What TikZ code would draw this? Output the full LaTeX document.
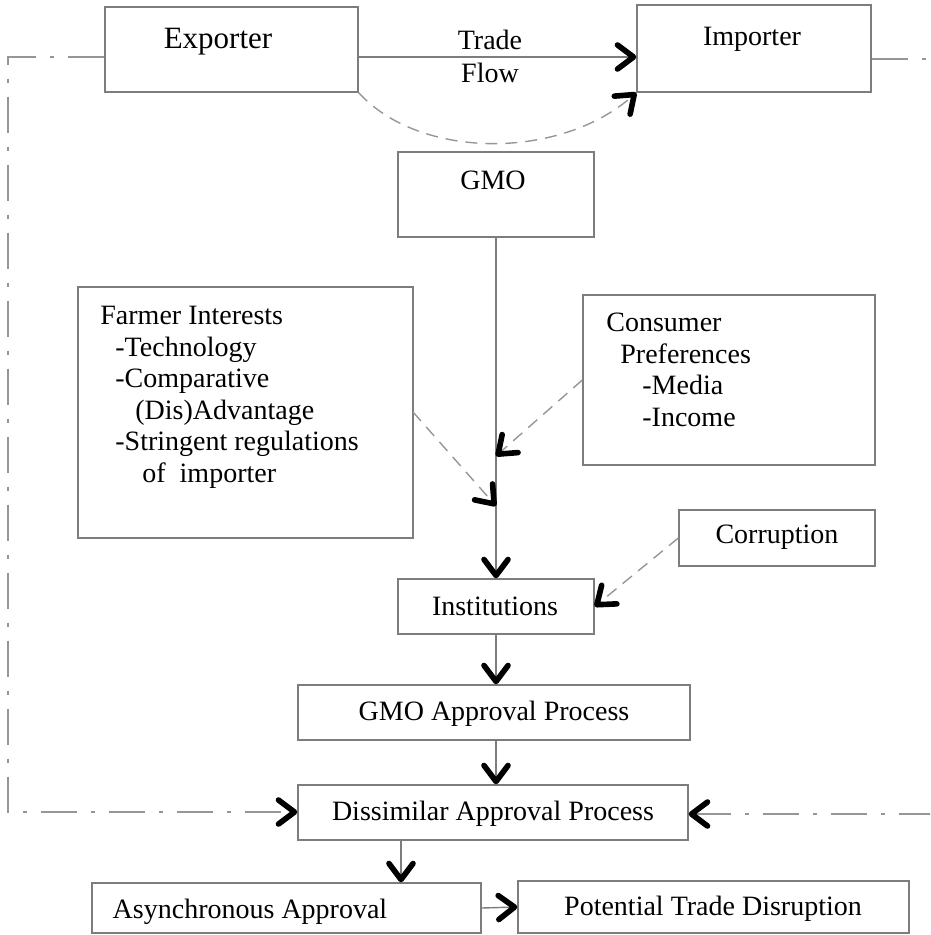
\documentclass[tikz,border=0pt]{standalone}
\usepackage{fontspec}
\setmainfont{Liberation Serif}
\usepackage{xcolor}
\usetikzlibrary{fit}
\usetikzlibrary{arrows.meta}
\definecolor{linegray}{RGB}{125,125,125}
\definecolor{dashgray}{RGB}{150,150,150}

\begin{document}
\begin{tikzpicture}[x=0.5pt,y=-0.5pt]

\tikzstyle{every node}=[font=\fontsize{14}{15.75}\selectfont]
\tikzstyle{box}=[draw=linegray,line width=0.7pt,inner sep=0pt]
\tikzstyle{barb}=[-{Straight Barb[length=8pt,width=12pt,line width=2.8pt,round,color=black]}]
\tikzstyle{flow}=[barb,draw=linegray,line width=0.7pt]
\tikzstyle{hint}=[barb,draw=dashgray,line width=0.7pt,dash pattern=on 6pt off 4pt]
\tikzstyle{feedback}=[barb,draw=dashgray,line width=0.7pt,dash pattern=on 18pt off 7pt on 2pt off 7pt]

\clip (0,0) rectangle (930,935);

% boxes
\node[box,fit={(105,7) (358,92)}] (exp) {};
\node[box,fit={(637,5) (871,92)}] (imp) {};
\node[box,fit={(398,152) (594,237)}] (gmo) {};
\node[box,fit={(78,287) (413,538)}] (farm) {};
\node[box,fit={(583,295) (875,465)}] (cons) {};
\node[box,fit={(679,510) (875,566)}] (corr) {};
\node[box,fit={(398,579) (594,634)}] (inst) {};
\node[box,fit={(298,685) (690,740)}] (gap) {};
\node[box,fit={(298,785) (688,840)}] (dis) {};
\node[box,fit={(92,883) (481,933)}] (asyn) {};
\node[box,fit={(518,881) (909,933)}] (pot) {};

% texts
\node[anchor=base,font=\fontsize{15.5}{17}\selectfont] (explbl) at (218,49) {Exporter};
\node[anchor=base] (implbl) at (752,46) {Importer};
\node[anchor=base] (trade) at (490,50) {Trade};
\node[anchor=base] (flw) at (490,83) {Flow};
\node[anchor=base] (gmolbl) at (493,190) {GMO};
\node[anchor=north west,align=left,inner sep=0pt] (farmlbl) at (100,306)
  {Farmer Interests\\\hspace*{7.5pt}-Technology\\\hspace*{7.5pt}-Comparative\\
   \hspace*{17.5pt}(Dis)Advantage\\\hspace*{7.5pt}-Stringent regulations\\
   \hspace*{21pt}of\ \ importer};
\node[anchor=north west,align=left,inner sep=0pt] (conslbl) at (606,313)
  {Consumer\\\hspace*{7pt}Preferences\\\hspace*{18pt}-Media\\\hspace*{18pt}-Income};
\node[anchor=base] (corrlbl) at (777,543) {Corruption};
\node[anchor=base] (instlbl) at (495,615) {Institutions};
\node[anchor=base] (gaplbl) at (494,720) {GMO Approval Process};
\node[anchor=base] (dislbl) at (493,820) {Dissimilar Approval Process};
\node[anchor=base] (asynlbl) at (250,918) {Asynchronous Approval};
\node[anchor=base] (potlbl) at (713,915) {Potential Trade Disruption};

% connectors
\coordinate (tf) at (0,57);
\coordinate (fout) at (413,412);
\coordinate (fhit) at (496,506);
\coordinate (chit) at (496,456);
\coordinate (split) at (401,0);
\coordinate (ltop) at (8,57);
\coordinate (lbot) at (8,812);
\coordinate (rtop) at (935,59);
\coordinate (rbot) at (935,814);

\draw[flow] (exp.east |- tf) -- (imp.west |- tf);
\draw[hint] (exp.south east) .. controls (420,160) and (560,160) .. (imp.south west);
\draw[flow] (gmo.south) -- (inst.north);
\draw[hint] (fout) -- (fhit);
\draw[hint] (cons.west) -- (chit);
\draw[hint] (corr.west) -- (inst.east);
\draw[flow] (inst.south) -- (inst.south |- gap.north);
\draw[flow] (gap.south -| inst.south) -- (dis.north -| inst.south);
\draw[flow] (dis.south -| split) -- (asyn.north -| split);
\draw[flow] (asyn.east) -- (pot.west);
\draw[feedback] (exp.west |- tf) -- (ltop) -- (lbot) -- (dis.west |- lbot);
\draw[feedback,-] (imp.east |- rtop) -- (rtop);
\draw[feedback] (rbot) -- (dis.east |- rbot);
\end{tikzpicture}
\end{document}
